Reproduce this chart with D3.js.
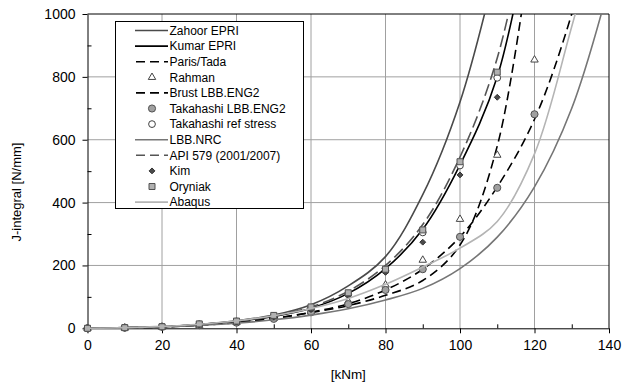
<!DOCTYPE html>
<meta charset='utf-8'>
<style>
  body { margin: 0; background: #fff; }
  svg { font-family: "Liberation Sans", Arial, sans-serif; }
  .grid line { stroke: #a0a0a0; stroke-width: 1; }
  .axis path, .axis line { stroke: #000; }
  .axis text { font-size: 14px; fill: #000; font-family: "Liberation Sans", Arial, sans-serif; }
</style>
<body></body>
<script src="https://d3js.org/d3.v7.min.js"></script>
<script>

// bending moment steps [kNm]
const mSteps = [0, 10, 20, 30, 40, 50, 60, 70, 80, 90, 100, 110, 120, 130, 140];

// J-integral [N/mm], one value per mSteps entry
const zahoorJ = [0, 2, 5, 12, 24, 42, 75, 135, 228, 425, 720, 1165];
const kumarJ  = [0, 2, 5, 12, 22, 38, 64, 111, 190, 315, 520, 800, 1350];
const parisJ  = [0, 1, 4, 10, 19, 32, 50, 72, 105, 152, 265, 580, 1300];
const brustJ  = [0, 2, 5, 10, 18, 31, 51, 78, 122, 188, 291, 450, 665, 1000, 1450];
const nrcJ    = [0, 1, 4, 9, 16, 27, 42, 62, 90, 127, 190, 290, 450, 700, 1090];
const apiJ    = [0, 2, 5, 12, 23, 40, 68, 118, 200, 330, 545, 860, 1400];
const abaqusJ = [0, 2, 6, 13, 24, 40, 63, 95, 140, 195, 255, 340, 555, 960, 1400];

// point series
const rahmanJ   = [0, 1, 4, 10, 19, 32, 53, 86, 138, 217, 347, 551, 854];
const takaEngJ  = [0, 2, 5, 10, 18, 30, 51, 77, 122, 188, 291, 447, 681];
const takaRefJ  = [0, 2, 5, 13, 22, 38, 63, 108, 183, 305, 518, 797];
const kimJ      = [0, 2, 5, 12, 21, 36, 60, 104, 178, 274, 488, 735];
const oryniakJ  = [0, 2, 5, 14, 23, 41, 68, 113, 188, 313, 530, 815];

const xTicks = [0, 20, 40, 60, 80, 100, 120, 140];
const yTicks = [0, 200, 400, 600, 800, 1000];

const series = [
  {name: 'Zahoor EPRI', type: 'line', vals: zahoorJ, color: '#4a4a4a', dash: null},
  {name: 'Kumar EPRI', type: 'line', vals: kumarJ, color: '#000', dash: null},
  {name: 'Paris/Tada', type: 'line', vals: parisJ, color: '#000', dash: '9,5'},
  {name: 'Rahman', type: 'pt', vals: rahmanJ, sym: d3.symbolTriangle, size: 24, fill: '#fff', stroke: '#444'},
  {name: 'Brust LBB.ENG2', type: 'line', vals: brustJ, color: '#000', dash: '9,5'},
  {name: 'Takahashi LBB.ENG2', type: 'pt', vals: takaEngJ, sym: d3.symbolCircle, size: 40, fill: '#a0a0a0', stroke: '#505050'},
  {name: 'Takahashi ref stress', type: 'pt', vals: takaRefJ, sym: d3.symbolCircle, size: 36, fill: '#fff', stroke: '#404040'},
  {name: 'LBB.NRC', type: 'line', vals: nrcJ, color: '#767676', dash: null},
  {name: 'API 579 (2001/2007)', type: 'line', vals: apiJ, color: '#555', dash: '12,5'},
  {name: 'Kim', type: 'pt', vals: kimJ, sym: d3.symbolDiamond2, size: 22, fill: '#4a4a4a', stroke: '#333'},
  {name: 'Oryniak', type: 'pt', vals: oryniakJ, sym: d3.symbolSquare, size: 36, fill: '#b0b0b0', stroke: '#505050'},
  {name: 'Abaqus', type: 'line', vals: abaqusJ, color: '#b4b4b4', dash: null}
];

const W = 623, H = 389;
const plot = {left: 87.5, right: 609, top: 14, bottom: 328.3};

const svg = d3.select('body').append('svg').attr('width', W).attr('height', H);

const x = d3.scaleLinear().domain([0, 140]).range([plot.left, plot.right]);
const y = d3.scaleLinear().domain([0, 1000]).range([plot.bottom, plot.top]);

// grid
const grid = svg.append('g').attr('class', 'grid');
grid.selectAll('line.v').data(xTicks.filter(d => d > 0 && d < 140)).join('line')
  .attr('class', 'v').attr('x1', d => x(d)).attr('x2', d => x(d))
  .attr('y1', plot.top).attr('y2', plot.bottom);
grid.selectAll('line.h').data(yTicks.filter(d => d > 0 && d < 1000)).join('line')
  .attr('class', 'h').attr('y1', d => y(d)).attr('y2', d => y(d))
  .attr('x1', plot.left).attr('x2', plot.right);

// frame top/right
svg.append('path')
  .attr('d', `M${plot.left},${plot.top}H${plot.right}V${plot.bottom}`)
  .attr('fill', 'none').attr('stroke', '#000');

// axes
svg.append('g').attr('class', 'axis')
  .attr('transform', `translate(0,${plot.bottom})`)
  .call(d3.axisBottom(x).tickValues(xTicks).tickSize(5).tickPadding(7).tickSizeOuter(0));
svg.append('g').attr('class', 'axis')
  .attr('transform', `translate(0,${plot.bottom})`)
  .call(d3.axisTop(x).tickValues(d3.range(10, 140, 20)).tickSize(4).tickFormat('').tickSizeOuter(0))
  .select('.domain').remove();

svg.append('g').attr('class', 'axis')
  .attr('transform', `translate(${plot.left},0)`)
  .call(d3.axisLeft(y).tickValues(yTicks).tickFormat(d3.format('d')).tickSize(5).tickPadding(7).tickSizeOuter(0));
svg.append('g').attr('class', 'axis')
  .attr('transform', `translate(${plot.left},0)`)
  .call(d3.axisRight(y).tickValues(d3.range(100, 1000, 200)).tickSize(4).tickFormat('').tickSizeOuter(0))
  .select('.domain').remove();

// axis titles
svg.append('text').attr('x', x(70)).attr('y', 379).attr('text-anchor', 'middle')
  .style('font-size', '13.5px').text('[kNm]');
svg.append('text').attr('transform', 'translate(21,192) rotate(-90)')
  .attr('text-anchor', 'middle').style('font-size', '13px').text('J-integral [N/mm]');

// data
svg.append('clipPath').attr('id', 'clip').append('rect')
  .attr('x', plot.left).attr('y', plot.top)
  .attr('width', plot.right - plot.left).attr('height', plot.bottom - plot.top + 2);

const line = d3.line().x((d, i) => x(mSteps[i])).y(d => y(d)).curve(d3.curveCatmullRom.alpha(0.5));
const layer = svg.append('g');

series.forEach(s => {
  if (s.type === 'line') {
    layer.append('path').attr('clip-path', 'url(#clip)')
      .attr('d', line(s.vals)).attr('fill', 'none')
      .attr('stroke', s.color).attr('stroke-width', 1.6)
      .attr('stroke-dasharray', s.dash);
  } else {
    layer.append('g').selectAll('path').data(s.vals).join('path')
      .attr('transform', (d, i) => `translate(${x(mSteps[i])},${y(d)})`)
      .attr('d', d3.symbol().type(s.sym).size(s.size))
      .attr('fill', s.fill).attr('stroke', s.stroke).attr('stroke-width', 1);
  }
});

// legend
const lg = svg.append('g');
lg.append('rect').attr('x', 115.5).attr('y', 21.5).attr('width', 188).attr('height', 187)
  .attr('fill', '#fff').attr('stroke', '#000');
series.forEach((s, i) => {
  const yy = 30.5 + i * 15.6;
  if (s.type === 'line') {
    lg.append('line').attr('x1', 135).attr('x2', 168).attr('y1', yy).attr('y2', yy)
      .attr('stroke', s.color).attr('stroke-width', 1.6)
      .attr('stroke-dasharray', s.dash ? '9,5' : null)
      .attr('stroke-dashoffset', s.dash ? -1 : null);
  } else {
    lg.append('path').attr('transform', `translate(152,${yy})`)
      .attr('d', d3.symbol().type(s.sym).size(s.size))
      .attr('fill', s.fill).attr('stroke', s.stroke);
  }
  lg.append('text').attr('x', 169.5).attr('y', yy + 4.3)
    .style('font-size', '12px').text(s.name);
});

</script>
